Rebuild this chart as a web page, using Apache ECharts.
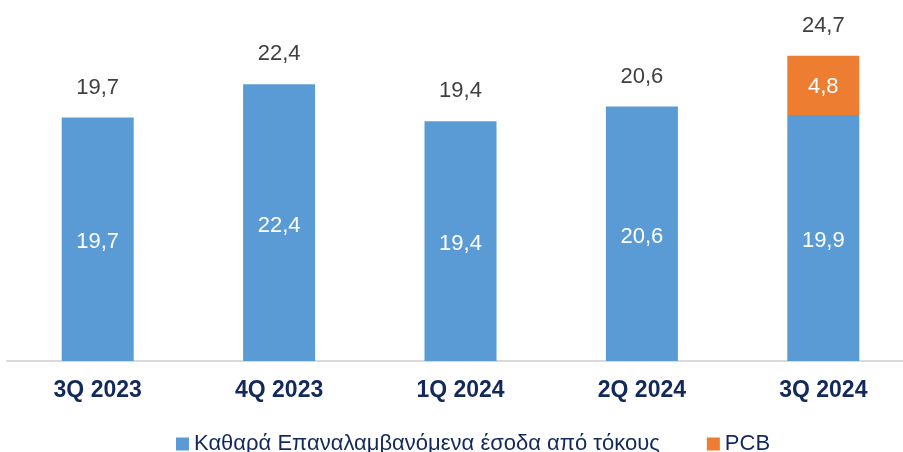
<!DOCTYPE html>
<html lang="el">
<head>
    <meta charset="UTF-8">
    <title>Net Recurring Interest Income</title>
    <script src="https://cdn.jsdelivr.net/npm/echarts@6/dist/echarts.min.js"></script>
</head>
<body style="margin:0;background:#fff;overflow:hidden;">
    <div id="main" style="width: 914px; height: 452px;"></div>
    <script>
        const quarters = ['3Q 2023', '4Q 2023', '1Q 2024', '2Q 2024', '3Q 2024'];
        const recurring = [19.7, 22.4, 19.4, 20.6, 19.9];
        const pcb = [null, null, null, null, 4.8];
        const seriesNames = ['Καθαρά Επαναλαμβανόμενα έσοδα από τόκους', 'PCB'];

        const totals = recurring.map((v, i) => Math.round((v + (pcb[i] || 0)) * 10) / 10);
        const fmt = v => String(v.toFixed(1)).replace('.', ',');

        const myChart = echarts.init(document.getElementById('main'));

        const options = {
            backgroundColor: '#fff',
            animation: false,
            grid: {
                left: 7,
                right: 0,
                top: 15,
                bottom: 91
            },
            legend: {
                left: 176,
                top: 433,
                padding: 0,
                itemWidth: 13,
                itemHeight: 13,
                itemGap: 47,
                icon: 'rect',
                textStyle: {
                    fontFamily: 'Liberation Sans',
                    fontSize: 22,
                    color: '#13295b'
                },
                data: seriesNames
            },
            xAxis: {
                type: 'category',
                data: quarters,
                axisLine: { lineStyle: { color: '#d9d9d9', width: 2 } },
                axisTick: { show: false },
                axisLabel: {
                    margin: 18,
                    fontFamily: 'Liberation Sans',
                    fontWeight: 'bold',
                    fontSize: 23,
                    color: '#13295b'
                }
            },
            yAxis: {
                type: 'value',
                min: 0,
                max: 28,
                show: false
            },
            series: [
                {
                    name: seriesNames[0],
                    type: 'bar',
                    stack: 'total',
                    barWidth: 72,
                    data: recurring,
                    itemStyle: { color: '#5b9bd5' },
                    label: {
                        show: true,
                        position: 'inside',
                        offset: [0, 3],
                        fontFamily: 'Liberation Sans',
                        fontSize: 22,
                        color: '#fff',
                        formatter: p => fmt(p.value)
                    }
                },
                {
                    name: seriesNames[1],
                    type: 'bar',
                    stack: 'total',
                    barWidth: 72,
                    data: pcb,
                    itemStyle: { color: '#ed7d31' },
                    label: {
                        show: true,
                        position: 'inside',
                        offset: [0, 2],
                        fontFamily: 'Liberation Sans',
                        fontSize: 22,
                        color: '#fff',
                        formatter: p => fmt(p.value)
                    }
                },
                {
                    name: 'total',
                    type: 'scatter',
                    data: totals,
                    symbolSize: 0,
                    silent: true,
                    itemStyle: { opacity: 1 },
                    label: {
                        show: true,
                        position: 'top',
                        distance: 19,
                        fontFamily: 'Liberation Sans',
                        fontSize: 22,
                        color: '#404040',
                        formatter: p => fmt(p.value)
                    }
                }
            ]
        };

        myChart.setOption(options);
    </script>
</body>
</html>
